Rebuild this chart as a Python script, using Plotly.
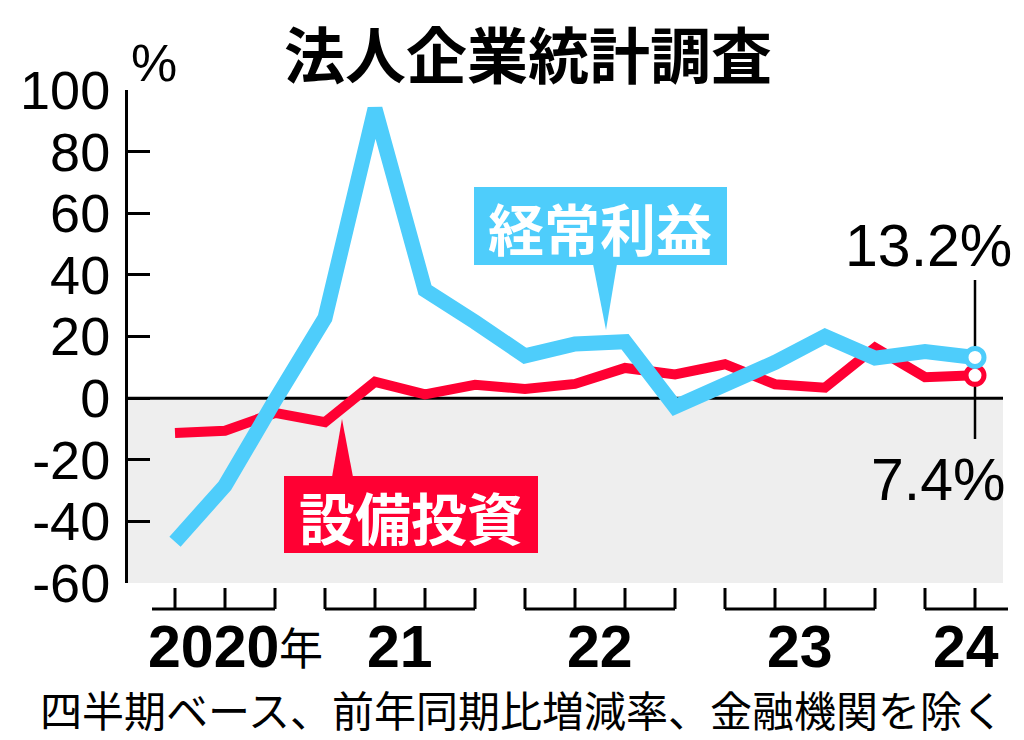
import plotly.graph_objects as go

# ---------------- data ----------------
quarters = ["2020Q2", "2020Q3", "2020Q4",
            "2021Q1", "2021Q2", "2021Q3", "2021Q4",
            "2022Q1", "2022Q2", "2022Q3", "2022Q4",
            "2023Q1", "2023Q2", "2023Q3", "2023Q4",
            "2024Q1", "2024Q2"]
profit = [-46.6, -28.4, -0.7, 26.0, 93.9, 35.1, 24.7, 13.7, 17.6, 18.3,
          -2.8, 4.3, 11.6, 20.1, 13.0, 15.1, 13.2]          # 経常利益
capex = [-11.3, -10.6, -4.8, -7.8, 5.3, 1.2, 4.3, 3.0, 4.6, 9.8,
         7.7, 11.0, 4.5, 3.4, 16.4, 6.8, 7.4]                 # 設備投資
year_labels = ["2020", "21", "22", "23", "24"]
year_counts = [3, 4, 4, 4, 2]
y_ticks = [-60, -40, -20, 0, 20, 40, 60, 80, 100]
y_ticktext = ["-60", "-40", "-20", "0", "20", "40", "60", "80", "100"]

title_text = "法人企業統計調査"
note_text = "四半期ベース、前年同期比増減率、金融機関を除く"
profit_name = "経常利益"
capex_name = "設備投資"

# ---------------- layout geometry ----------------
W, H = 1024, 740
L, R, T, B = 128, 1010, 90, 583
STEP = 50.0
X0 = -(175 - L) / STEP
X1 = X0 + (R - L) / STEP

CYAN = "#4ECDFB"
RED = "#FF0033"
GRAY = "#EEEEEE"
JP = "Noto Sans CJK JP"
LAT = "Liberation Sans, Noto Sans CJK JP"


def fx(p):
    return (p - L) / (R - L)


def fy(p):
    return (B - p) / (B - T)


def ix(i):
    return (i - X0) / (X1 - X0)


fig = go.Figure()

fig.add_trace(go.Scatter(x=quarters, y=capex, mode="lines",
                         line=dict(color=RED, width=10), hoverinfo="skip"))
fig.add_trace(go.Scatter(x=quarters, y=profit, mode="lines",
                         line=dict(color=CYAN, width=15), hoverinfo="skip"))
fig.add_trace(go.Scatter(x=quarters[-1:], y=capex[-1:], mode="markers",
                         marker=dict(size=18, color="white",
                                     line=dict(color=RED, width=5)),
                         hoverinfo="skip"))
fig.add_trace(go.Scatter(x=quarters[-1:], y=profit[-1:], mode="markers",
                         marker=dict(size=18, color="white",
                                     line=dict(color=CYAN, width=5)),
                         hoverinfo="skip"))

shapes = []
# gray negative area
shapes.append(dict(type="rect", xref="paper", yref="y", x0=0, x1=fx(1003),
                   y0=-60, y1=0, fillcolor=GRAY, line=dict(width=0),
                   layer="below"))
# zero line
shapes.append(dict(type="line", xref="paper", yref="y", x0=0, x1=fx(1003),
                   y0=0, y1=0, line=dict(color="black", width=3),
                   layer="below"))
# leader lines to last values
n_last = len(quarters) - 1
shapes.append(dict(type="line", xref="x", yref="paper", x0=n_last, x1=n_last,
                   y0=fy(280), y1=(profit[-1] + 60) / 160,
                   line=dict(color="black", width=2.5), layer="below"))
shapes.append(dict(type="line", xref="x", yref="paper", x0=n_last, x1=n_last,
                   y0=(capex[-1] + 60) / 160, y1=fy(439),
                   line=dict(color="black", width=2.5), layer="below"))

# year brackets under the axis
yb_top, yb_bot = fy(588), fy(609)
start = 0
annotations = []
for k, (lab, cnt) in enumerate(zip(year_labels, year_counts)):
    idx = list(range(start, start + cnt))
    left = idx[0] - (0.46 if k == 0 else 0)
    right = idx[-1] + (0.66 if k == len(year_labels) - 1 else 0)
    shapes.append(dict(type="line", xref="paper", yref="paper",
                       x0=ix(left), x1=ix(right), y0=yb_bot, y1=yb_bot,
                       line=dict(color="black", width=3)))
    for i in idx:
        shapes.append(dict(type="line", xref="paper", yref="paper",
                           x0=ix(i), x1=ix(i), y0=yb_top, y1=yb_bot,
                           line=dict(color="black", width=3)))
    center = (left + right) / 2
    annotations.append(dict(xref="paper", yref="paper", x=ix(center),
                            y=fy(647), xanchor="center", yanchor="middle",
                            text="<b>" + lab + "</b>", showarrow=False,
                            font=dict(family=LAT, size=59, color="black")))
    if k == 0:
        annotations.append(dict(xref="paper", yref="paper", x=fx(277),
                                y=fy(646), xanchor="left", yanchor="middle",
                                text="年", showarrow=False,
                                font=dict(family=JP, size=44, color="black")))
    start += cnt

# label boxes
shapes.append(dict(type="rect", xref="paper", yref="paper",
                   x0=fx(474), x1=fx(727), y0=fy(265), y1=fy(187),
                   fillcolor=CYAN, line=dict(width=0)))
shapes.append(dict(type="path", xref="paper", yref="paper",
                   path=f"M {fx(593)},{fy(264)} L {fx(617)},{fy(264)} L {fx(606)},{fy(330)} Z",
                   fillcolor=CYAN, line=dict(width=0)))
shapes.append(dict(type="rect", xref="paper", yref="paper",
                   x0=fx(284), x1=fx(538), y0=fy(553), y1=fy(476),
                   fillcolor=RED, line=dict(width=0)))
shapes.append(dict(type="path", xref="paper", yref="paper",
                   path=f"M {fx(332)},{fy(477)} L {fx(353)},{fy(477)} L {fx(342)},{fy(419)} Z",
                   fillcolor=RED, line=dict(width=0)))

annotations += [
    dict(xref="paper", yref="paper", x=fx(600), y=fy(227), text="<b>" + profit_name + "</b>",
         showarrow=False, xanchor="center", yanchor="middle",
         font=dict(family=JP, size=56, color="white")),
    dict(xref="paper", yref="paper", x=fx(411), y=fy(515), text="<b>" + capex_name + "</b>",
         showarrow=False, xanchor="center", yanchor="middle",
         font=dict(family=JP, size=56, color="white")),
    dict(xref="paper", yref="paper", x=fx(528), y=fy(52), text="<b>" + title_text + "</b>",
         showarrow=False, xanchor="center", yanchor="middle",
         font=dict(family=JP, size=61, color="black")),
    dict(xref="paper", yref="paper", x=fx(154), y=fy(63), text="%",
         showarrow=False, xanchor="center", yanchor="middle",
         font=dict(family=LAT, size=52, color="black")),
    dict(xref="paper", yref="paper", x=fx(522), y=fy(708), text=note_text,
         showarrow=False, xanchor="center", yanchor="middle",
         font=dict(family=JP, size=42, color="black")),
    dict(xref="paper", yref="paper", x=fx(1014), y=fy(246), text=f"{profit[-1]}%",
         showarrow=False, xanchor="right", yanchor="middle",
         font=dict(family=LAT, size=59, color="black")),
    dict(xref="paper", yref="paper", x=fx(1007), y=fy(480), text=f"{capex[-1]}%",
         showarrow=False, xanchor="right", yanchor="middle",
         font=dict(family=LAT, size=59, color="black")),
]

fig.update_layout(
    width=W, height=H,
    margin=dict(l=L, r=W - R, t=T, b=H - B, pad=0),
    paper_bgcolor="white", plot_bgcolor="rgba(0,0,0,0)",
    showlegend=False,
    shapes=shapes, annotations=annotations,
    xaxis=dict(type="category", range=[X0, X1], visible=False,
               showgrid=False, zeroline=False),
    yaxis=dict(range=[-60, 100], tickvals=y_ticks, ticktext=y_ticktext,
               showline=True, linecolor="black", linewidth=3,
               ticks="inside", ticklen=22, tickwidth=3, tickcolor="black",
               showgrid=False, zeroline=False,
               tickfont=dict(family=LAT, size=54, color="black"),
               ticklabelstandoff=4),
)

fig.write_html("out.html",
               config={"displayModeBar": False},
               post_script="document.body.style.margin='0';"
                           "document.body.style.overflow='hidden';")
